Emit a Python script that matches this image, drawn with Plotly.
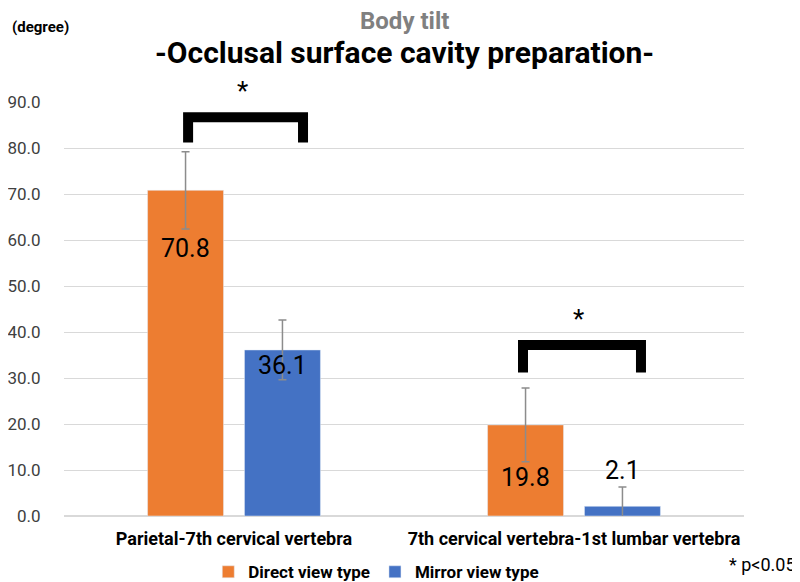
import plotly.graph_objects as go

# data
categories = ["Parietal-7th cervical vertebra", "7th cervical vertebra-1st lumbar vertebra"]
direct_vals = [70.8, 19.8]
direct_err = [8.4, 8.0]
mirror_vals = [36.1, 2.1]
mirror_err = [6.5, 4.2]

orange = "#ED7D31"
blue = "#4472C4"
font = "Roboto"

fig = go.Figure()
fig.add_trace(go.Bar(
    name="<b>Direct view type</b>", x=categories, y=direct_vals, marker_color=orange,
    error_y=dict(type="data", array=direct_err, color="#8c8c8c", thickness=1.5, width=4),
))
fig.add_trace(go.Bar(
    name="<b>Mirror view type</b>", x=categories, y=mirror_vals, marker_color=blue,
    error_y=dict(type="data", array=mirror_err, color="#8c8c8c", thickness=1.5, width=4),
))

# value labels (pixel shifts relative to the bar tops)
label_shift = {"direct": [-58, -53], "mirror": [-16, 36]}
for i, c in enumerate(categories):
    for vals, key, dx in [(direct_vals, "direct", -0.143), (mirror_vals, "mirror", 0.143)]:
        fig.add_annotation(x=i + dx, y=vals[i], text=f"{vals[i]:.1f}", showarrow=False,
                           yshift=label_shift[key][i], xref="x", yref="y",
                           font=dict(family=font, size=25, color="#000000"))

# significance brackets
brackets = [(0, -0.135, 0.203, 86.7, 81.2), (1, -0.15, 0.197, 37.2, 31.2)]
for i, x0, x1, top, leg in brackets:
    fig.add_shape(type="path",
                  path=f"M {i + x0},{leg} L {i + x0},{top} L {i + x1},{top} L {i + x1},{leg}",
                  line=dict(color="black", width=10), xref="x", yref="y")
    fig.add_annotation(x=i + (x0 + x1) / 2 - 0.01, y=top, yshift=26, text="*", showarrow=False,
                       font=dict(family=font, size=26, color="#000000"))

fig.add_annotation(x=0.5, y=1.0, xref="paper", yref="paper", yanchor="bottom", yshift=65,
                   text="<b>Body tilt</b>", showarrow=False,
                   font=dict(family=font, size=24, color="#808080"))
fig.add_annotation(x=0.5, y=1.0, xref="paper", yref="paper", yanchor="bottom", yshift=30,
                   text="<b>-Occlusal surface cavity preparation-</b>", showarrow=False,
                   font=dict(family=font, size=30, color="#000000"))
fig.add_annotation(x=-0.08, y=1.0, xref="paper", yref="paper", xanchor="left", yanchor="bottom",
                   yshift=64, text="<b>(degree)</b>", showarrow=False,
                   font=dict(family=font, size=15, color="#000000"))
fig.add_annotation(x=1.08, y=-0.118, xref="paper", yref="paper", xanchor="right", yanchor="middle",
                   text="* p<0.05", showarrow=False,
                   font=dict(family=font, size=18, color="#000000"))

# the page body adds an 8px offset, so the figure is 8px smaller
fig.update_layout(
    width=792, height=574,
    margin=dict(l=56, r=56, t=94, b=66),
    paper_bgcolor="white", plot_bgcolor="white",
    barmode="group", bargap=0.43, bargroupgap=0.216,
    showlegend=True,
    legend=dict(orientation="h", x=0.465, xanchor="center", xref="container",
                y=0.017, yanchor="middle", yref="container",
                font=dict(family=font, size=17, color="#000000"), itemwidth=30,
                tracegroupgap=0),
    font=dict(family=font),
)
fig.update_yaxes(range=[0, 90], dtick=10, tickformat=".1f", gridcolor="#d9d9d9",
                 zeroline=True, zerolinecolor="#d9d9d9", showline=False, automargin=False,
                 ticks="outside", ticklen=19, tickcolor="rgba(0,0,0,0)",
                 tickfont=dict(family=font, size=17, color="#404040"))
fig.update_xaxes(showline=False, automargin=False, ticklabelstandoff=10,
                 tickprefix="<b>", ticksuffix="</b>",
                 tickfont=dict(family=font, size=18, color="#000000"))

fig.write_html("out.html")
